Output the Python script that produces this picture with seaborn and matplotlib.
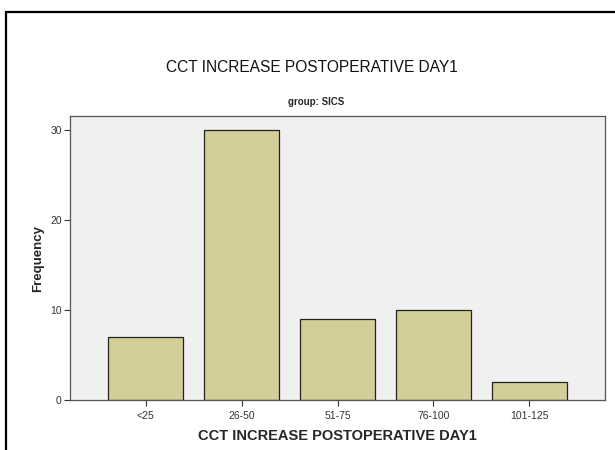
import matplotlib
matplotlib.use("Agg")
import matplotlib.pyplot as plt
import matplotlib.patches as patches
import pandas as pd
import seaborn as sns

# values
categories = ["<25", "26-50", "51-75", "76-100", "101-125"]
frequency = [7, 30, 9, 10, 2]
yticks = [0, 10, 20, 30]

df = pd.DataFrame({"bin": categories, "count": frequency})

sns.set_style("white")
plt.rcParams['font.family'] = ['Liberation Sans', 'DejaVu Sans']

fig = plt.figure(figsize=(6.15, 4.5), dpi=100)
W, H = 615, 450
ax = fig.add_axes([70 / W, 1 - 400 / H, 535 / W, 284 / H])

sns.barplot(data=df, x="bin", y="count", color="#D3CE97", width=0.78,
            edgecolor="#222222", linewidth=0.9, saturation=1, ax=ax)

ax.set_facecolor("#F0F0F0")
ax.set_xlim(-0.79, 4.79)
ax.set_ylim(0, 31.5)
ax.set_yticks(yticks)
ax.set_yticklabels([str(t) for t in yticks], fontsize=7.5, color="#333333")
ax.tick_params(axis="x", labelsize=7.5, colors="#333333", length=4, width=0.8, direction="out", pad=4)
ax.tick_params(axis="y", length=4, width=0.8, direction="out", colors="#333333", pad=2)
ax.tick_params(bottom=True, left=True)
for s in ax.spines.values():
    s.set_visible(True)
    s.set_color("#555555")
    s.set_linewidth(0.9)

ax.set_xlabel("CCT INCREASE POSTOPERATIVE DAY1", fontsize=10.5, fontweight="bold", labelpad=6)
ax.set_ylabel("Frequency", fontsize=9.5, fontweight="bold", labelpad=4)

fig.text(312 / W, 1 - 68 / H, "CCT INCREASE POSTOPERATIVE DAY1",
         ha="center", va="center", fontsize=11.2, color="#111111")
fig.text(316 / W, 1 - 102 / H, "group: SICS", ha="center", va="center",
         fontsize=7, fontweight="bold")

# black frame around the chart area (left and top edges visible)
frame = patches.Rectangle((6 / W, -0.1), 1.2, 1 - 12 / H + 0.1, transform=fig.transFigure,
                          fill=False, edgecolor="black", linewidth=1.6)
fig.add_artist(frame)

fig.savefig("out.png", dpi=100)
